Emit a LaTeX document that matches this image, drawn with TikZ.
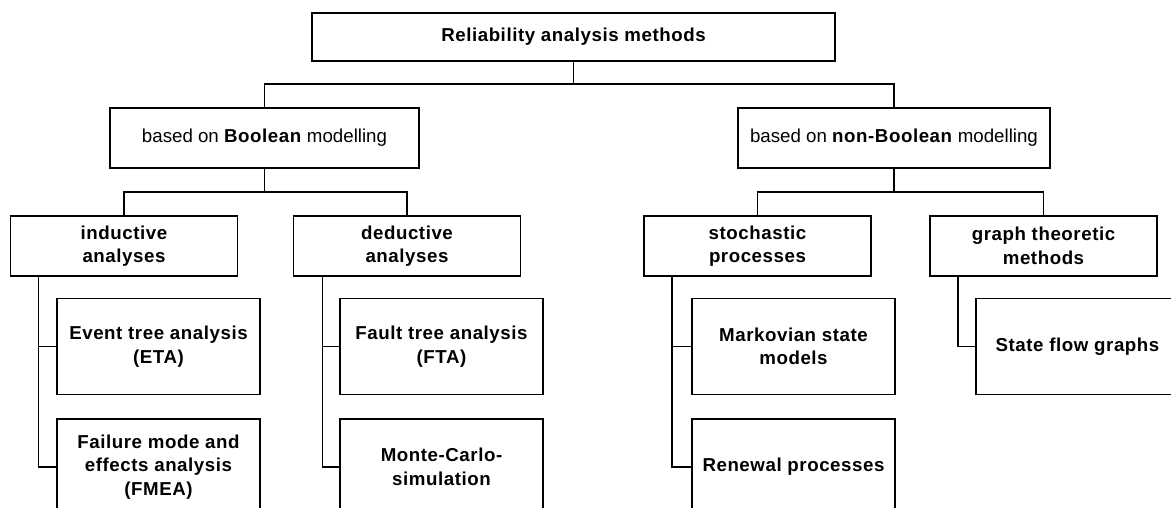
\documentclass[tikz,border=0pt]{standalone}
\usepackage{fontspec}
\setmainfont{Liberation Sans}[BoldFeatures={LetterSpace=3}]
\begin{document}
\begin{tikzpicture}[x=1pt,y=-1pt,
  box/.style={draw, line width=1.8pt, inner sep=0pt, outer sep=0pt, align=center,
    font=\fontsize{18.7}{23.5}\selectfont},
  boldbox/.style={box, font=\fontsize{18.7}{23.5}\selectfont\bfseries},
  midbox/.style={boldbox, minimum width=227pt, minimum height=60pt},
  leaf/.style={boldbox, minimum width=203pt, minimum height=96pt},
  conn/.style={line width=1.8pt}]
\useasboundingbox (0,0) rectangle (1171,507);
\clip (0,0) rectangle (1171,507);
\node[boldbox, minimum width=523pt, minimum height=48pt] (top) at (573.5,37) {Reliability analysis methods};
\node[box, minimum width=309pt, minimum height=60pt] (bool) at (264.5,138) {based on \textbf{Boolean} modelling};
\node[box, minimum width=312pt, minimum height=60pt] (nbool) at (894,138) {based on \textbf{non-Boolean} modelling};
\node[midbox] (ind) at (124,246) {inductive\\analyses};
\node[midbox] (ded) at (407,246) {deductive\\analyses};
\node[midbox] (sto) at (757.5,246) {stochastic\\processes};
\node[midbox] (gra) at (1043.5,246) {graph theoretic\\methods};
\node[leaf] (eta) at (158.5,346.5) {Event tree analysis\\(ETA)};
\node[leaf] (fmea) at (158.5,467) {Failure mode and\\effects analysis\\(FMEA)};
\node[leaf] (fta) at (441.5,346.5) {Fault tree analysis\\(FTA)};
\node[leaf] (mc) at (441.5,467) {Monte-Carlo-\\simulation};
\node[leaf] (mark) at (793.5,346.5) {Markovian state\\models};
\node[leaf] (ren) at (793.5,467) {Renewal processes};
\node[leaf] (sfg) at (1077.5,346.5) {State flow graphs};
% level 1
\coordinate (j0) at (573.5,84);
\draw[conn] (top.south) -- (j0);
\draw[conn] (bool.north) |- (j0) -| (nbool.north);
% level 2
\coordinate (j1) at (264.5,192);
\coordinate (j2) at (894,192);
\draw[conn] (bool.south) -- (j1);
\draw[conn] (ind.north) |- (j1) -| (ded.north);
\draw[conn] (nbool.south) -- (j2);
\draw[conn] (sto.north) |- (j2) -| (gra.north);
% branches
\coordinate (bi) at ([xshift=28pt]ind.south west);
\coordinate (bd) at ([xshift=29pt]ded.south west);
\coordinate (bs) at ([xshift=28pt]sto.south west);
\coordinate (bg) at ([xshift=28pt]gra.south west);
\draw[conn] (bi) |- (eta.west);
\draw[conn] (bi) |- (fmea.west);
\draw[conn] (bd) |- (fta.west);
\draw[conn] (bd) |- (mc.west);
\draw[conn] (bs) |- (mark.west);
\draw[conn] (bs) |- (ren.west);
\draw[conn] (bg) |- (sfg.west);
\end{tikzpicture}
\end{document}
